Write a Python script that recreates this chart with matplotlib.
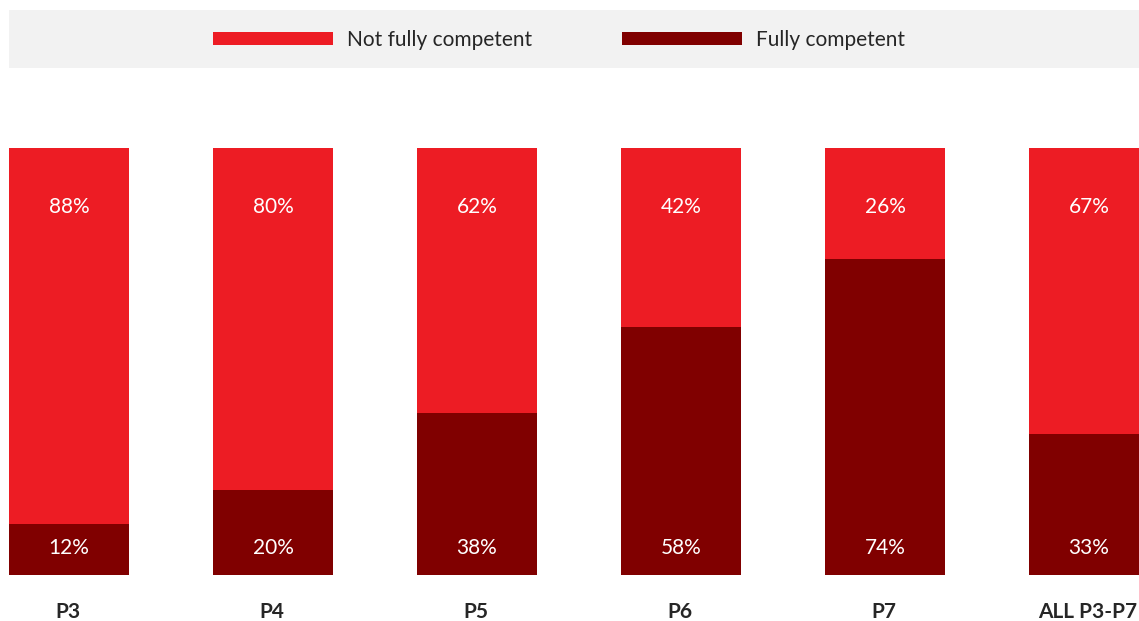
import matplotlib
matplotlib.use("Agg")
import matplotlib.pyplot as plt
from matplotlib.patches import Rectangle, Patch

plt.rcParams['font.family'] = ['Lato', 'DejaVu Sans']

# competence by year group
groups = ["P3", "P4", "P5", "P6", "P7", "ALL P3-P7"]
fully = [12, 20, 38, 58, 74, 33]
not_fully = [88, 80, 62, 42, 26, 67]

RED = "#ED1C24"
DARK = "#800000"
TXT = "#262626"

W, H = 1139, 621
fig = plt.figure(figsize=(W / 100, H / 100), dpi=100)

# grey band behind the legend
fig.patches.append(Rectangle((9 / W, 1 - 68 / H), 1 - 9 / W, 58 / H,
                             transform=fig.transFigure, facecolor="#F2F2F2",
                             edgecolor="none", zorder=0))

# axes placed so bar edges land on the slide grid
ax = fig.add_axes([9 / W, (H - 575) / H, 1 - 9 / W, 427 / H])
x = list(range(len(groups)))
bw = 120 / 204
ax.bar(x, fully, width=bw, color=DARK, align="center")
ax.bar(x, not_fully, width=bw, bottom=fully, color=RED, align="center")
ax.set_xlim(-60 / 204, (1139 - 69) / 204)
ax.set_ylim(0, 100)
ax.axis("off")

fs = 15
for i in x:
    ax.annotate(f"{not_fully[i]}%", (i, 100), xytext=(0, -59 * 0.72),
                textcoords="offset points", ha="center", va="center",
                color="white", fontsize=fs)
    ax.annotate(f"{fully[i]}%", (i, 0), xytext=(0, 27 * 0.72),
                textcoords="offset points", ha="center", va="center",
                color="white", fontsize=fs)
    ax.annotate(groups[i], (i, 0), xytext=(-1, -37 * 0.72),
                textcoords="offset points", ha="center", va="center",
                color=TXT, fontsize=fs, fontweight="bold",
                annotation_clip=False)

handles = [Patch(facecolor=RED, label="Not fully competent"),
           Patch(facecolor=DARK, label="Fully competent")]
fig.legend(handles=handles, loc="center left",
           bbox_to_anchor=(213 / W, 1 - 40 / H), ncol=2, frameon=False,
           fontsize=fs, handlelength=5.77, handleheight=0.53,
           handletextpad=0.67, columnspacing=4.3, borderaxespad=0,
           borderpad=0, labelcolor=TXT)

fig.savefig("out.png", dpi=100)
